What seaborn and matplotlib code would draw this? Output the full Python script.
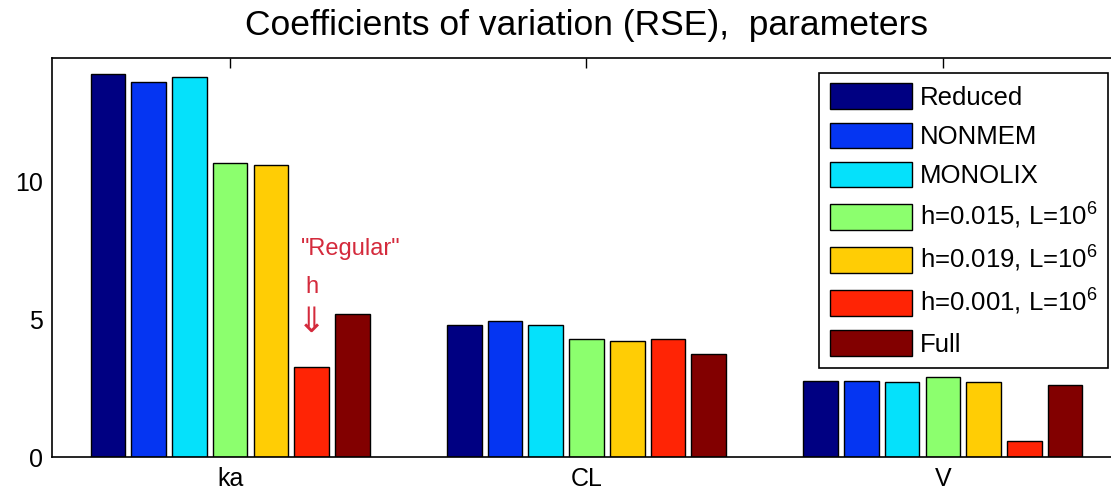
import pandas as pd
import numpy as np
import matplotlib
matplotlib.use("Agg")
import matplotlib.pyplot as plt
import seaborn as sns

# values
params = ["ka", "CL", "V"]
methods = [
    "Reduced",
    "NONMEM",
    "MONOLIX",
    r"h=0.015, L=10$^{6}$",
    r"h=0.019, L=10$^{6}$",
    r"h=0.001, L=10$^{6}$",
    "Full",
]
reduced = [13.90, 4.79, 2.76]
nonmem = [13.61, 4.94, 2.76]
monolix = [13.81, 4.79, 2.74]
h015 = [10.69, 4.27, 2.89]
h019 = [10.62, 4.21, 2.74]
h001 = [3.28, 4.27, 0.58]
full = [5.18, 3.73, 2.62]

colors = ["#000082", "#0535f2", "#05e1fb", "#8cff6e", "#ffcd05", "#ff2405", "#820000"]

series = [reduced, nonmem, monolix, h015, h019, h001, full]
df = pd.DataFrame(
    [(p, m, v[i]) for m, v in zip(methods, series) for i, p in enumerate(params)],
    columns=["param", "method", "value"],
)

sns.set_style("white")
plt.rcParams["font.family"] = ["Liberation Sans", "DejaVu Sans"]
plt.rcParams["mathtext.fontset"] = "custom"
plt.rcParams["mathtext.rm"] = "Liberation Sans"
plt.rcParams["mathtext.it"] = "Liberation Sans:italic"
plt.rcParams["text.color"] = "black"
plt.rcParams["xtick.color"] = "black"
plt.rcParams["ytick.color"] = "black"

fig = plt.figure(figsize=(11.11, 4.92), dpi=100)
ax = fig.add_axes([0.0468, 0.0711, 0.9622, 0.8104])

sns.barplot(
    data=df, x="param", y="value", hue="method",
    order=params, hue_order=methods, palette=colors, saturation=1,
    width=0.8, gap=0.15, edgecolor="black", linewidth=1.0,
    legend=False, ax=ax,
)

ax.set_xlim(-0.5, 2.5)
ax.set_ylim(0, 14.48)
ax.set_yticks([0, 5, 10])
ax.set_xlabel("")
ax.set_ylabel("")
ax.set_axisbelow(True)
ax.tick_params(direction="in", length=7, width=1, top=True, right=True,
               labelsize=18, colors="black")
ax.tick_params(axis="x", pad=7)
ax.tick_params(axis="y", pad=6.5)
for s in ax.spines.values():
    s.set_visible(True)
    s.set_color("black")
    s.set_linewidth(1.2)

ax.set_title("Coefficients of variation (RSE),  parameters", fontsize=25.5, pad=16.5,
             color="black")

leg = ax.legend(
    handles=list(ax.containers), labels=methods,
    loc="upper right", bbox_to_anchor=(1108 / 1111, 1 - 72.5 / 492),
    bbox_transform=fig.transFigure, borderaxespad=0,
    fontsize=18.5, handlelength=3.2, handleheight=1.15, handletextpad=0.3,
    labelspacing=0.5, borderpad=0.42, fancybox=False, framealpha=1,
    edgecolor="black",
)
leg.get_frame().set_linewidth(1.2)

# annotation over the "regular h" bar of ka
red_bar = ax.containers[5][0]
bx = red_bar.get_x() + red_bar.get_width() / 2
ann_color = "#d42a3c"
ax.text(bx - 0.03, 7.34, '"Regular"', color=ann_color, fontsize=17, ha="left", va="baseline")
ax.text(bx, 5.96, "h", color=ann_color, fontsize=17, ha="center", va="baseline")
ax.text(bx, 4.9, "\u21d3", color=ann_color, fontsize=25, ha="center", va="center",
        family="DejaVu Sans")

fig.savefig("out.png", dpi=100, facecolor="white")
